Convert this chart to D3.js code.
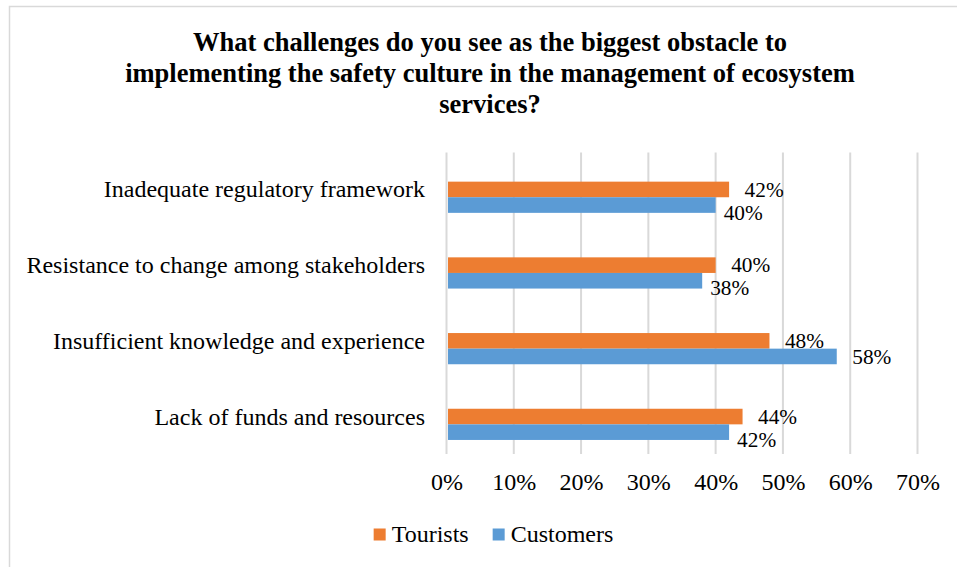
<!DOCTYPE html>
<html>
<head>
<meta charset="utf-8">
<script src="https://cdn.jsdelivr.net/npm/d3@7"></script>
<style>
  html, body { margin: 0; padding: 0; background: #fff; }
  svg { display: block; }
  text { font-family: "Liberation Serif", "Times New Roman", serif; fill: #000; }
</style>
</head>
<body>
<svg id="chart" width="957" height="567"></svg>
<script>
// ---- data ----
const titleLines = [
  "What challenges do you see as the biggest obstacle to",
  "implementing the safety culture in the management of ecosystem",
  "services?"
];
const categories = [
  "Inadequate regulatory framework",
  "Resistance to change among stakeholders",
  "Insufficient knowledge and experience",
  "Lack of funds and resources"
];
const seriesNames = ["Tourists", "Customers"];
const tourists  = [0.42, 0.40, 0.48, 0.44];
const customers = [0.40, 0.38, 0.58, 0.42];
const tickValues = [0, 0.1, 0.2, 0.3, 0.4, 0.5, 0.6, 0.7];
const colors = ["#ED7D31", "#5B9BD5"];

// ---- layout ----
const svg = d3.select("#chart");
const W = 957, H = 567;

// chart border
svg.append("rect")
  .attr("x", 9.5).attr("y", 6.5)
  .attr("width", 1000).attr("height", 600)
  .attr("fill", "#fff").attr("stroke", "#d9d9d9").attr("stroke-width", 1.5);

// title
const title = svg.append("text")
  .attr("text-anchor", "middle")
  .style("font-size", "26.5px").style("font-weight", "bold");
titleLines.forEach((t, i) => {
  title.append("tspan").attr("x", 490).attr("y", 51 + i * 31).text(t);
});

const x = d3.scaleLinear().domain([0, 0.7]).range([446.5, 917.5]);
const y = d3.scaleBand().domain(categories).range([151.6, 454.4]);
const barH = 15.6;
const ySeries = d3.scaleBand().domain(seriesNames).range([-barH / 2, barH * 1.5]);

const gridTop = 152.5, gridBottom = 454;

// gridlines
svg.append("g").selectAll("line")
  .data(tickValues).join("line")
  .attr("x1", d => x(d)).attr("x2", d => x(d))
  .attr("y1", gridTop).attr("y2", gridBottom)
  .attr("stroke", "#d9d9d9").attr("stroke-width", 2);

// x axis tick labels via d3 axis
const xAxis = d3.axisBottom(x).tickValues(tickValues).tickFormat(d3.format(".0%")).tickSize(0).tickPadding(0);
const gx = svg.append("g").attr("transform", `translate(0,${gridBottom})`).call(xAxis);
gx.select(".domain").remove();
gx.selectAll("text")
  .attr("y", 36).attr("dy", null)
  .style("font-size", "24px")
  .style("font-family", "'Liberation Serif', 'Times New Roman', serif")
  .attr("fill", "#000");

// y axis category labels via d3 axis
const yAxis = d3.axisLeft(y).tickSize(0).tickPadding(0);
const gy = svg.append("g").attr("transform", `translate(425,0)`).call(yAxis);
gy.select(".domain").remove();
gy.selectAll("text")
  .attr("x", 0).attr("dy", "8px")
  .style("font-size", "24px")
  .style("font-family", "'Liberation Serif', 'Times New Roman', serif")
  .attr("fill", "#000");

// bars
const rows = categories.map((c, i) => ({
  cat: c,
  vals: [
    { s: seriesNames[0], v: tourists[i], color: colors[0] },
    { s: seriesNames[1], v: customers[i], color: colors[1] }
  ]
}));

const groups = svg.append("g").selectAll("g")
  .data(rows).join("g")
  .attr("transform", d => `translate(0,${y(d.cat) + y.bandwidth() / 2})`);

groups.selectAll("rect")
  .data(d => d.vals).join("rect")
  .attr("x", x(0) + 1.5)
  .attr("y", d => ySeries(d.s))
  .attr("width", d => x(d.v) - x(0) - 1.5)
  .attr("height", ySeries.bandwidth())
  .attr("fill", d => d.color);

// data labels, with overlap avoidance for the second series
const fmt = d3.format(".0%");
const labelFont = 21.3;
const labelW = labelFont * 1.833;
groups.each(function(d) {
  const g = d3.select(this);
  const a = d.vals[0], b = d.vals[1];
  const ax = x(a.v) + 15.5;
  const ay = ySeries(a.s) + ySeries.bandwidth() / 2;
  let bx = x(b.v) + 15.5;
  let by = ySeries(b.s) + ySeries.bandwidth() / 2;
  if (Math.abs(bx - ax) < labelW) { bx = x(b.v) + 8; by += 7.5; }
  [[a, ax, ay], [b, bx, by]].forEach(([o, lx, ly]) => {
    g.append("text")
      .attr("x", lx).attr("y", ly + 7.2)
      .style("font-size", labelFont + "px")
      .text(fmt(o.v));
  });
});

// legend
const legendCenter = 493.5;
const lg = svg.append("g");
const tmp = seriesNames.map(n => {
  const t = lg.append("text").style("font-size", "24px").text(n);
  const w = t.node().getComputedTextLength();
  t.remove();
  return w;
});
const sq = 12, gapSq = 6, gapItem = 24;
const total = seriesNames.reduce((acc, n, i) => acc + sq + gapSq + tmp[i], 0) + gapItem * (seriesNames.length - 1);
let lx = legendCenter - total / 2;
seriesNames.forEach((n, i) => {
  lg.append("rect").attr("x", lx).attr("y", 528.5).attr("width", sq).attr("height", sq).attr("fill", colors[i]);
  lg.append("text").attr("x", lx + sq + gapSq).attr("y", 542).style("font-size", "24px").text(n);
  lx += sq + gapSq + tmp[i] + gapItem;
});
</script>
</body>
</html>
